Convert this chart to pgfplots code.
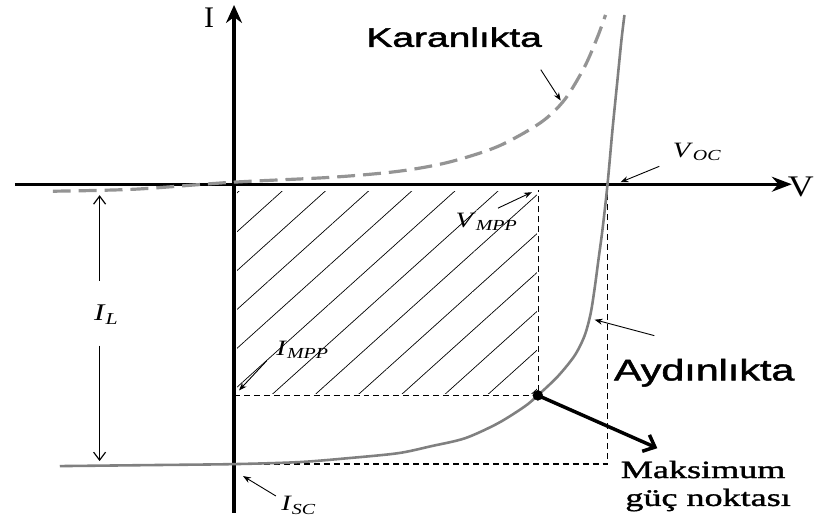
\documentclass[border=0pt]{standalone}
\usepackage{fontspec}
\setmainfont{Liberation Serif}
\newfontfamily\arial[FakeBold=1.5]{Liberation Sans}
\newfontfamily\serifbold[FakeBold=1.2]{Liberation Serif}
\usepackage{graphicx}
\usepackage{pgfplots}
\pgfplotsset{compat=1.18}
\usetikzlibrary{arrows.meta,patterns.meta}

% horizontally widened lettering
\newcommand{\wide}[2][1.4]{\scalebox{#1}[1]{#2}}
\newcommand{\fs}[1]{\fontsize{#1}{#1}\selectfont}
\newcommand{\sym}[3]{\wide[1.3]{\fs{#1}\textit{#2}\textsubscript{\textit{#3}}}}

\definecolor{darkcurve}{gray}{0.58}
\definecolor{lightcurve}{gray}{0.5}

\begin{document}
\begin{tikzpicture}
\begin{axis}[
  x=1pt, y=1pt,
  xmin=-220, xmax=560, ymin=-330, ymax=180,
  enlargelimits=false,
  axis lines=middle,
  ticks=none,
  clip=false,
  x axis line style={line width=2.6pt, -{Stealth[length=20pt,width=15pt]}},
  y axis line style={line width=4pt, -{Stealth[length=18pt,width=16pt]}},
]
% page frame
\path (axis cs:-235,185) rectangle (axis cs:582,-340);

% power rectangle, hatched
\addplot[draw=none, pattern={Lines[angle=42,distance=29pt,line width=0.7pt]}, pattern color=black]
  coordinates {(3,-7) (304,-7) (304,-210) (3,-210)} -- cycle;

% dashed guide lines
\addplot[black, line width=1.3pt, dash pattern=on 6pt off 4pt]
  coordinates {(0,-212) (306,-212) (306,-6)};
\addplot[black, line width=1.3pt, dash pattern=on 6pt off 4pt]
  coordinates {(0,-281) (375,-281) (375,0)};

% dark characteristic
\addplot[darkcurve, line width=3.2pt, dash pattern=on 18pt off 8pt, smooth, tension=0.5]
  coordinates {(-182,-7) (-100,-5) (-2,2) (98,7) (165,13) (215,22) (265,38)
               (308,62) (332,85) (352,118) (365,148) (373,170)};

% illuminated characteristic
\addplot[lightcurve, line width=2.6pt, smooth, tension=0.5]
  coordinates {(-175,-283) (-85,-282) (0,-281) (65,-279) (115,-275) (165,-270)
               (198,-263) (232,-255) (265,-240) (292,-223) (305,-212) (325,-193)
               (342,-172) (352,-152) (358,-130) (362,-105) (366,-75) (370,-45)
               (375,0) (380,55) (385,105) (389,145) (392,170)};

% maximum power point
\addplot[only marks, mark=*, mark size=5pt, black] coordinates {(305,-212)};

% labels
\node[anchor=center] at (axis cs:-25,167) {\fs{30}I};
\node[anchor=center] at (axis cs:569,-3) {\wide[1.2]{\fs{30}V}};
\node[anchor=base] at (axis cs:221,138) {\wide[1.45]{\arial\fs{27}Karanlıkta}};
\node[anchor=base west] at (axis cs:378,-197) {\wide[1.38]{\arial\fs{30}Aydınlıkta}};
\node[anchor=base] at (axis cs:471,-295) {\wide[1.45]{\serifbold\fs{25}Maksimum}};
\node[anchor=base] at (axis cs:476,-323) {\wide[1.45]{\serifbold\fs{25}güç noktası}};

\node[anchor=base west] at (axis cs:437,27) {\sym{22}{V}{OC}};
\node[anchor=base west] at (axis cs:219,-43) {\sym{22}{V}{MPP}};
\node[anchor=base west] at (axis cs:-144,-137) {\sym{24}{I}{L}};
\node[anchor=base west] at (axis cs:39,-172) {\sym{22}{I}{MPP}};
\node[anchor=base west] at (axis cs:44,-328) {\sym{22}{I}{SC}};

% pointers
\draw[line width=0.9pt, -{Stealth[length=8pt,width=6pt]}] (axis cs:308,115) -- (axis cs:328,84);
\draw[line width=0.9pt, -{Stealth[length=8pt,width=6pt]}] (axis cs:427,18) -- (axis cs:388,2);
\draw[line width=0.9pt, -{Stealth[length=8pt,width=6pt]}] (axis cs:265,-24) -- (axis cs:299,-8);
\draw[line width=0.9pt, -{Stealth[length=8pt,width=6pt]}] (axis cs:33,-177) -- (axis cs:5,-207);
\draw[line width=0.9pt, -{Stealth[length=8pt,width=6pt]}] (axis cs:42,-313) -- (axis cs:9,-293);
\draw[line width=0.9pt, -{Stealth[length=8pt,width=6pt]}] (axis cs:422,-152) -- (axis cs:362,-136);
\draw[line width=1.2pt, -{Straight Barb[length=8pt,width=12pt]}] (axis cs:-135,-97) -- (axis cs:-135,-11);
\draw[line width=1.2pt, -{Straight Barb[length=8pt,width=12pt]}] (axis cs:-135,-162) -- (axis cs:-135,-278);
\draw[line width=3.5pt, -{Straight Barb[length=10pt,width=18pt]}] (axis cs:305,-212) -- (axis cs:425,-265);
\end{axis}
\end{tikzpicture}
\end{document}
